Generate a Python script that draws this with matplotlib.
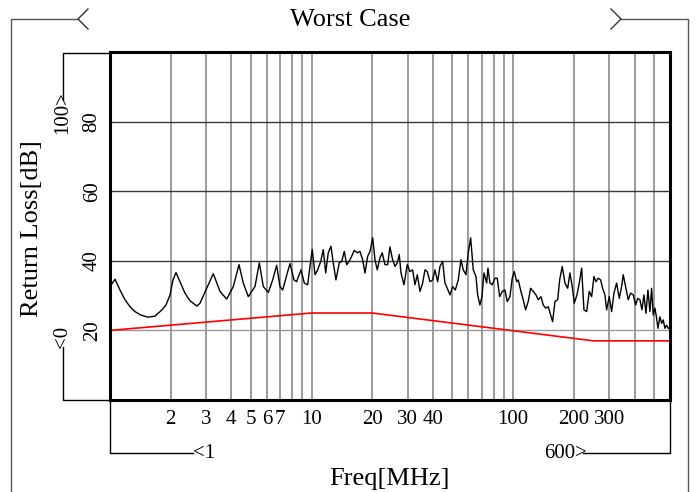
''' Return loss, worst case, against the limit line '''

import matplotlib
matplotlib.use("Agg")
import matplotlib.pyplot as plt
from matplotlib.lines import Line2D

# measured curve
freq = [1.00, 1.059, 1.121, 1.187, 1.257, 1.33, 1.425, 1.543, 1.672, 1.81,
        1.896, 1.985, 2.053, 2.125, 2.224, 2.355, 2.494, 2.70,
        2.795, 3.018, 3.254, 3.513, 3.793, 4.09, 4.364, 4.584, 4.853, 5.24,
        5.505, 5.761, 6.099, 6.412, 6.713, 6.97, 7.19, 7.58, 7.816, 8.18,
        8.43, 8.86, 9.20, 9.56, 9.82, 10.08, 10.40, 10.72, 11.10, 11.43,
        11.75, 12.10, 12.48, 12.81, 13.21, 13.72, 14.11, 14.53, 14.94, 15.33,
        15.81, 16.28, 16.93, 17.38, 17.93, 18.41, 18.98, 19.49, 20.10, 20.63,
        21.18, 21.84, 22.42, 23.12, 23.85, 24.48, 25.19, 25.93, 26.62, 27.23,
        27.77, 28.73, 29.84, 30.77, 31.73, 32.58, 33.45, 34.5, 35.57, 36.52,
        37.49, 38.66, 39.87, 40.94, 42.22, 43.35, 44.71, 45.89, 47.11, 48.60,
        50.11, 51.62, 53.42, 55.10, 56.56, 58.33, 59.89, 61.55, 63.40, 65.39,
        66.67, 68.44, 70.02, 71.66, 73.89, 74.99, 76.73, 78.77, 81.23, 83.39,
        85.70, 88.31, 91.07, 93.49, 96.41, 98.97, 101.3, 104.1, 106.0, 109.3,
        112.2, 115.3, 118.8, 122.1, 125.8, 129.8, 133.2, 137.4, 141.0, 145.0,
        149.3, 153.5, 157.0, 161.2, 166.3, 170.1, 175.2, 180.7, 186.4, 191.3,
        196.4, 201.0, 207.3, 212.8, 218.7, 224.5, 231.6, 238.5, 245.2, 251.7,
        257.5, 264.3, 271.6, 277.9, 285.3, 290.9, 299.7, 308.0, 316.2, 326.1,
        336.0, 345.3, 351.7, 362.7, 372.3, 382.6, 394.2, 405.2, 414.6, 425.6,
        435.5, 445.5, 455.8, 466.4, 477.1, 486.4, 495.4, 505.1, 515.0, 522.7,
        534.8, 545.3, 555.3, 566.2, 577.3, 587.9, 600.0]
rloss = [32.6, 34.7, 31.6, 28.8, 26.8, 25.4, 24.4, 23.8, 24.1, 25.9,
         27.3, 30.2, 34.5, 36.6, 34.0, 30.7, 28.5, 27.0,
         27.8, 32.1, 36.3, 31.2, 29.0, 32.6, 38.9, 33.6, 29.7, 32.6,
         39.4, 32.6, 30.9, 34.5, 38.7, 32.6, 31.6, 36.5, 39.2, 34.5,
         34.0, 37.4, 33.6, 33.1, 38.4, 43.2, 36.0, 37.4, 39.8, 43.2,
         36.5, 42.3, 44.2, 39.4, 34.5, 39.4, 39.8, 42.7, 38.9, 39.8,
         41.3, 43.0, 42.3, 42.7, 40.3, 36.5, 41.3, 42.7, 46.6, 40.3,
         37.4, 40.8, 42.3, 38.9, 38.9, 44.0, 40.5, 38.4, 39.4, 41.8,
         36.5, 33.1, 38.9, 36.9, 37.4, 33.1, 36.0, 31.2, 33.6, 37.4,
         36.9, 34.0, 34.5, 37.4, 34.0, 38.4, 39.8, 33.6, 32.1, 30.2,
         32.6, 31.6, 34.5, 40.3, 37.4, 36.0, 42.3, 46.6, 37.4, 35.5,
         30.2, 27.3, 29.7, 36.5, 33.6, 37.9, 33.6, 33.1, 35.0, 35.0,
         29.7, 31.2, 31.6, 28.3, 29.7, 35.0, 36.9, 34.0, 34.5, 31.2,
         28.8, 25.9, 28.3, 32.1, 31.2, 30.2, 28.8, 29.7, 27.3, 26.4,
         26.8, 24.4, 22.5, 28.3, 28.8, 34.5, 38.4, 33.6, 32.1, 36.5,
         32.6, 27.8, 30.2, 33.6, 37.9, 25.9, 25.4, 31.2, 29.7, 35.5,
         34.0, 35.0, 34.5, 32.1, 30.2, 25.9, 29.7, 25.4, 30.7, 33.6,
         29.2, 32.6, 36.0, 32.1, 28.8, 30.7, 30.2, 27.3, 29.2, 28.8,
         25.9, 30.2, 24.9, 31.6, 25.4, 32.1, 24.4, 26.4, 23.5, 20.6,
         23.9, 22.0, 23.0, 20.6, 21.5, 20.6, 20.6]

# limit line
limit_freq = [1, 10, 20, 250, 600]
limit_rl = [20, 25, 25, 17, 17]

xgrid = [2, 3, 4, 5, 6, 7, 8, 9, 10, 20, 30, 40, 50, 60, 70, 80, 90,
         100, 200, 300, 400, 500]
xlabels = ["2", "3", "4", "5", "6", "7", "", "", "10", "20", "30", "40",
           "", "", "", "", "", "100", "200", "300", "", ""]
yticks = [20, 40, 60, 80]

W, H = 699, 492
FONT = "Liberation Serif"


def fxy(x, y):
    # pixel position (top-left origin) -> figure fraction
    return x / W, 1 - y / H


def pline(xs, ys, color="black", lw=1.0):
    pts = [fxy(x, y) for x, y in zip(xs, ys)]
    fig.add_artist(Line2D([p[0] for p in pts], [p[1] for p in pts],
                          transform=fig.transFigure, color=color, lw=lw))


def ptext(x, y, s, size, rot=0):
    fx, fy = fxy(x, y)
    fig.text(fx, fy, s, ha="center", va="center", rotation=rot,
             fontsize=size, family=FONT)


fig = plt.figure(figsize=(W / 100, H / 100), dpi=100)
l, b = fxy(110, 400)
ax = fig.add_axes([l, b, 560 / W, 348 / H])

ax.set_xscale("log")
ax.set_xlim(1, 600)
ax.set_ylim(0, 100)

for xv in xgrid:
    ax.axvline(xv, color="#8a8a8a", lw=1.2, zorder=1)
for yv in yticks:
    ax.axhline(yv, color="#9a9a9a" if yv == 20 else "#3a3a3a", lw=1.0, zorder=1)

ax.plot(freq, rloss, color="black", lw=1.0, zorder=3)
ax.plot(limit_freq, limit_rl, color="red", lw=1.2, zorder=2)

ax.set_xticks(xgrid)
ax.set_xticklabels(xlabels)
ax.xaxis.set_minor_locator(matplotlib.ticker.NullLocator())
ax.set_yticks(yticks)
ax.set_yticklabels([str(v) for v in yticks], rotation=90, va="center")
ax.tick_params(axis="x", length=0, pad=7, labelsize=15)
ax.tick_params(axis="y", length=0, pad=6, labelsize=15)
for t in ax.get_xticklabels() + ax.get_yticklabels():
    t.set_family(FONT)
for s in ax.spines.values():
    s.set_linewidth(2.2)

# title with side brackets
ptext(350, 20, "Worst Case", 19)
pline([11, 11, 78], [492, 19, 19], color="#555555")
pline([88, 78, 88], [9, 19, 29], color="#333333")
pline([688, 688, 621], [492, 19, 19], color="#555555")
pline([611, 621, 611], [9, 19, 29], color="#333333")

# y range bracket
pline([110, 63, 63], [53, 53, 100])
pline([63, 63, 110], [347, 400, 400])
ptext(63, 113, "100>", 15, rot=90)
ptext(63, 337, "<0", 15, rot=90)
ptext(32, 229, "Return Loss[dB]", 19, rot=90)

# x range bracket
pline([110, 110, 193], [400, 453, 453])
pline([583, 670, 670], [453, 453, 400])
ptext(204, 453, "<1", 15)
ptext(566, 453, "600>", 15)
ptext(389, 479, "Freq[MHz]", 19)

plt.savefig("out.png", dpi=100)
